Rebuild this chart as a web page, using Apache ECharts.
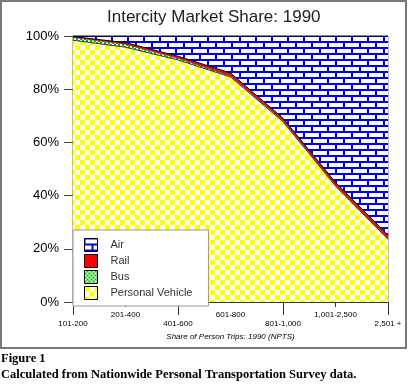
<!DOCTYPE html>
<html>
<head>
<meta charset="utf-8">
<script src="https://cdn.jsdelivr.net/npm/echarts@6/dist/echarts.min.js"></script>
<style>
html,body{margin:0;padding:0;background:#fff;}
#chart{width:409px;height:384px;}
</style>
</head>
<body>
<div id="chart"></div>
<script>
// ---- data ----
var categories = ['101-200', '201-400', '401-600', '601-800', '801-1,000', '1,001-2,500', '2,501 +'];
var personalVehicle = [98.4, 95.8, 91.0, 84.6, 67.8, 43.6, 23.6];
var bus = [1.0, 1.0, 0.6, 0.4, 0.3, 0.2, 0.2];
var rail = [0.4, 0.7, 0.8, 1.1, 1.0, 1.2, 1.3];
var air = [0.2, 2.5, 7.6, 13.9, 30.9, 55.0, 74.9];
var yTicks = [0, 20, 40, 60, 80, 100];
var titleText = 'Intercity Market Share: 1990';
var xTitle = 'Share of Person Trips: 1990 (NPTS)';
var figureLabel = 'Figure 1';
var captionText = 'Calculated from Nationwide Personal Transportation Survey data.';

// ---- fill patterns ----
function makeTile(w, h, draw) {
  var c = document.createElement('canvas');
  c.width = w; c.height = h;
  draw(c.getContext('2d'));
  return { image: c, repeat: 'repeat' };
}
var brick = makeTile(16, 12, function (g) {
  g.fillStyle = '#0000ff'; g.fillRect(0, 0, 16, 12);
  g.fillStyle = '#ffffff';
  g.fillRect(1, 1, 14, 4);
  g.fillRect(9, 7, 7, 4);
  g.fillRect(0, 7, 7, 4);
});
var checkerYellow = makeTile(10, 10, function (g) {
  g.fillStyle = '#ffffff'; g.fillRect(0, 0, 10, 10);
  g.fillStyle = '#ffff00';
  g.fillRect(0, 0, 5, 5); g.fillRect(5, 5, 5, 5);
});
var checkerGreen = makeTile(4, 4, function (g) {
  g.fillStyle = '#00c000'; g.fillRect(0, 0, 4, 4);
  g.fillStyle = '#ffffff';
  g.fillRect(0, 0, 2, 2); g.fillRect(2, 2, 2, 2);
});
var solidRed = '#ff0000';

var FONT = 'Liberation Sans, Arial, sans-serif';
var SERIF = 'bold 12.5px "Liberation Serif", "Times New Roman", serif';
var chart = echarts.init(document.getElementById('chart'), null, { renderer: 'canvas' });

function areaSeries(name, data, fill, lineColor, lineWidth) {
  return {
    name: name, type: 'line', stack: 'total', data: data,
    xAxisIndex: 0, symbol: 'none', smooth: false,
    itemStyle: { color: fill },
    lineStyle: { color: lineColor, width: lineWidth },
    areaStyle: { color: fill, opacity: 1 },
    emphasis: { disabled: true }
  };
}

var option = {
  animation: false,
  backgroundColor: '#ffffff',
  title: {
    text: titleText, left: 102, top: 4,
    textStyle: { fontFamily: FONT, fontSize: 17, fontWeight: 'normal', color: '#222' }
  },
  grid: { left: 73, right: 21, top: 36, bottom: 82, show: true, borderColor: '#777', borderWidth: 1 },
  legend: {
    orient: 'vertical', left: 73, top: 230,
    backgroundColor: '#ffffff', borderColor: '#999', borderWidth: 1,
    padding: [8, 16, 6, 11], itemGap: 2, itemWidth: 13, itemHeight: 13,
    icon: 'rect',
    itemStyle: { borderColor: '#000', borderWidth: 1 },
    textStyle: { fontFamily: FONT, fontSize: 11, color: '#333', padding: [0, 0, 0, 8] },
    data: [
      { name: 'Air', itemStyle: { color: brick } },
      { name: 'Rail', itemStyle: { color: solidRed } },
      { name: 'Bus', itemStyle: { color: checkerGreen } },
      { name: 'Personal Vehicle', itemStyle: { color: checkerYellow } }
    ],
    z: 10
  },
  xAxis: [
    {
      type: 'category', data: categories, boundaryGap: false, position: 'bottom',
      axisLine: { show: true, lineStyle: { color: '#333', width: 1 } },
      axisTick: { show: true, length: 13, interval: function (i) { return i % 2 === 0; }, lineStyle: { color: '#333' } },
      axisLabel: { interval: function (i) { return i % 2 === 0; }, margin: 18, fontFamily: FONT, fontSize: 8, color: '#000' },
      name: xTitle, nameLocation: 'middle', nameGap: 29,
      nameTextStyle: { fontFamily: FONT, fontSize: 8, fontStyle: 'italic', color: '#000' }
    },
    {
      type: 'category', data: categories, boundaryGap: false, position: 'bottom',
      axisLine: { show: false },
      axisTick: { show: true, length: 5, interval: function (i) { return i === 1 || i === 5; }, lineStyle: { color: '#333' } },
      axisLabel: { interval: function (i) { return i % 2 === 1; }, margin: 9, fontFamily: FONT, fontSize: 8, color: '#000' }
    }
  ],
  yAxis: {
    type: 'value', min: yTicks[0], max: yTicks[yTicks.length - 1], interval: 20,
    axisLine: { show: true, lineStyle: { color: '#333' } },
    axisTick: { show: true, length: 9, lineStyle: { color: '#444' } },
    splitLine: { show: false },
    axisLabel: { formatter: '{value}%', margin: 14, fontFamily: FONT, fontSize: 13, color: '#000' }
  },
  series: [
    areaSeries('Personal Vehicle', personalVehicle, checkerYellow, '#333', 1),
    areaSeries('Bus', bus, checkerGreen, '#2a5a2a', 0.5),
    areaSeries('Rail', rail, solidRed, '#000', 1),
    areaSeries('Air', air, brick, '#000', 1)
  ],
  graphic: [
    { type: 'rect', shape: { x: 1, y: 1, width: 405, height: 347 }, style: { fill: null, stroke: '#7a7a7a', lineWidth: 2 }, z: 100 },
    { type: 'text', left: 1, top: 352, style: { text: figureLabel, font: SERIF, fill: '#000' } },
    { type: 'text', left: 1, top: 368, style: { text: captionText, font: SERIF, fill: '#000' } }
  ]
};
chart.setOption(option);
</script>
</body>
</html>
